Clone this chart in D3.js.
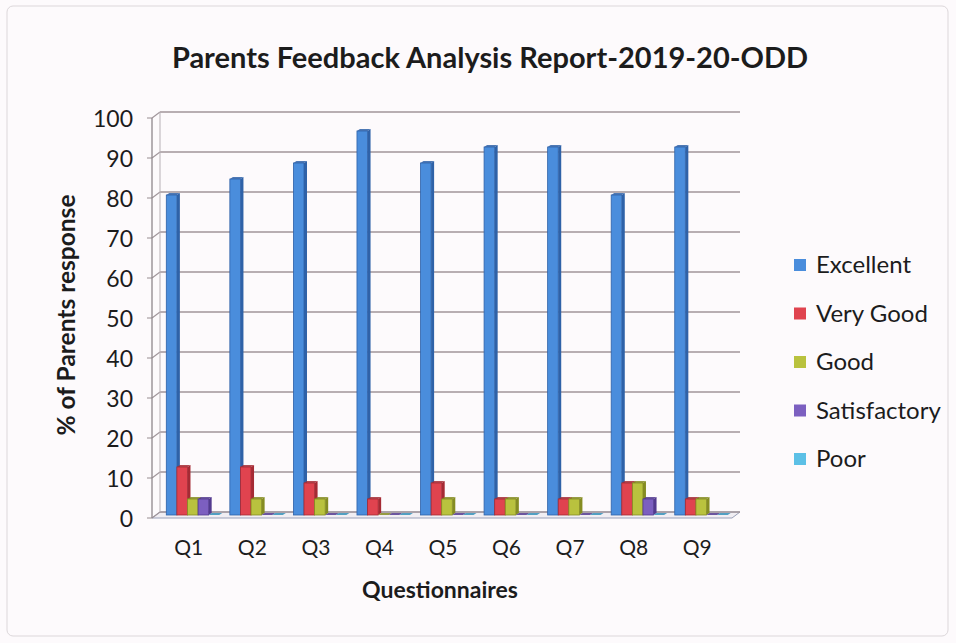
<!DOCTYPE html>
<html><head><meta charset="utf-8">
<script src="https://cdn.jsdelivr.net/npm/d3@7"></script>
<style>html,body{margin:0;padding:0;background:#fff;}svg{display:block;}</style>
</head><body>
<svg id="c" width="956" height="643"></svg>
<script>
const categories = ["Q1","Q2","Q3","Q4","Q5","Q6","Q7","Q8","Q9"];
const seriesNames = ["Excellent","Very Good","Good","Satisfactory","Poor"];
const excellent    = [80, 84, 88, 96, 88, 92, 92, 80, 92];
const veryGood     = [12, 12,  8,  4,  8,  4,  4,  8,  4];
const good         = [ 4,  4,  4,  0,  4,  4,  4,  8,  4];
const satisfactory = [ 4,  0,  0,  0,  0,  0,  0,  4,  0];
const poor         = [ 0,  0,  0,  0,  0,  0,  0,  0,  0];
const yTicks = [0,10,20,30,40,50,60,70,80,90,100];
const colors = ["#4a8ddc","#e0434f","#b9c23e","#7c5fc0","#5cc0e6"];
const sideColors = ["#2f62a8","#a52a34","#858c22","#533a8f","#3590b8"];

const seriesValues = [excellent, veryGood, good, satisfactory, poor];

const svg = d3.select("#c");
svg.append("rect").attr("x",0).attr("y",0).attr("width",956).attr("height",643).attr("fill","#fdfafc");
svg.append("rect").attr("x",7).attr("y",6).attr("width",941).attr("height",630).attr("rx",6)
  .attr("fill","none").attr("stroke","#dcd7da").attr("stroke-width",1);

const FONT = "Lato, 'Open Sans', sans-serif";
const axisX = 152, plotRight = 732, dx = 8, dy = -6;
const yFront = d3.scaleLinear().domain([0,100]).range([518,118]);
const yBar = d3.scaleLinear().domain([0,100]).range([515,115]);
const x0 = d3.scaleBand().domain(categories).range([161,733]).padding(0);
const x1 = d3.scaleBand().domain(seriesNames).range([0,x0.bandwidth()]).paddingInner(0).paddingOuter(0.5);

// title
svg.append("text").attr("x",490).attr("y",68).attr("text-anchor","middle")
  .attr("font-family",FONT).attr("font-weight","bold").attr("font-size",29).attr("fill","#1c1c1c")
  .text("Parents Feedback Analysis Report-2019-20-ODD");

const grid = svg.append("g");
const gridColor = "#a0959a";
grid.append("path").attr("d",`M${axisX},${yFront(0)}L${plotRight},${yFront(0)}L${plotRight+dx},${yFront(0)+dy}L${axisX+dx},${yFront(0)+dy}Z`)
  .attr("fill","#f1eef3").attr("stroke","#9aa0b8").attr("stroke-width",1);
yTicks.forEach(t=>{
  const yf = yFront(t);
  grid.append("line").attr("x1",axisX+dx).attr("x2",plotRight+dx).attr("y1",yf+dy).attr("y2",yf+dy)
    .attr("stroke",gridColor).attr("stroke-width",1.3);
  grid.append("line").attr("x1",axisX).attr("x2",axisX+dx).attr("y1",yf).attr("y2",yf+dy)
    .attr("stroke",gridColor).attr("stroke-width",1.1);
  grid.append("line").attr("x1",axisX-5).attr("x2",axisX).attr("y1",yf).attr("y2",yf)
    .attr("stroke",gridColor).attr("stroke-width",1.1);
});
grid.append("line").attr("x1",axisX+dx).attr("x2",axisX+dx).attr("y1",yFront(0)+dy).attr("y2",yFront(100)+dy)
  .attr("stroke","#b7b0b5").attr("stroke-width",1);
grid.append("line").attr("x1",axisX).attr("x2",axisX).attr("y1",yFront(0)).attr("y2",yFront(100))
  .attr("stroke","#8f878c").attr("stroke-width",1.3);

const yAxis = d3.axisLeft(yFront).tickValues(yTicks).tickSize(0).tickPadding(0);
const yg = svg.append("g").attr("transform",`translate(${axisX-19},0)`).call(yAxis);
yg.select(".domain").remove();
yg.selectAll("text").attr("font-family",FONT).attr("font-size",23).attr("fill","#1c1c1c").attr("dy","0.35em");

const bd = 3, bh = -2;
const barsG = svg.append("g");
categories.forEach((c,ci)=>{
  seriesNames.forEach((s,si)=>{
    const v = seriesValues[si][ci];
    const x = x0(c) + x1(s), w = x1.bandwidth();
    const yTop = yBar(v), yBase = yBar(0);
    const g = barsG.append("g");
    g.append("path").attr("d",`M${x+w},${yTop}L${x+w+bd},${yTop+bh}L${x+w+bd},${yBase+bh}L${x+w},${yBase}Z`)
      .attr("fill",sideColors[si]);
    g.append("path").attr("d",`M${x},${yTop}L${x+bd},${yTop+bh}L${x+w+bd},${yTop+bh}L${x+w},${yTop}Z`)
      .attr("fill",sideColors[si]).attr("opacity",0.85);
    if (v>0) g.append("rect").attr("x",x).attr("y",yTop).attr("width",w).attr("height",yBase-yTop)
      .attr("fill",colors[si]).attr("stroke",sideColors[si]).attr("stroke-width",0.8);
  });
});

const xAxis = d3.axisBottom(x0).tickSize(0).tickPadding(0);
const xg = svg.append("g").attr("transform",`translate(-4,540)`).call(xAxis);
xg.select(".domain").remove();
xg.selectAll("text").attr("font-family",FONT).attr("font-size",21).attr("fill","#1c1c1c").attr("dy","0.71em");

svg.append("text").attr("x",440).attr("y",598).attr("text-anchor","middle")
  .attr("font-family",FONT).attr("font-weight","bold").attr("font-size",23).attr("fill","#1c1c1c").text("Questionnaires");
svg.append("text").attr("transform","translate(75,315) rotate(-90)").attr("text-anchor","middle")
  .attr("font-family",FONT).attr("font-weight","bold").attr("font-size",24.5).attr("fill","#1c1c1c").text("% of Parents response");

const lg = svg.append("g").attr("transform","translate(794,265)");
seriesNames.forEach((s,i)=>{
  const g = lg.append("g").attr("transform",`translate(0,${i*48.5})`);
  g.append("rect").attr("x",0).attr("y",-6).attr("width",12).attr("height",12).attr("fill",colors[i]);
  g.append("text").attr("x",22).attr("y",0).attr("dy","0.35em").attr("font-family",FONT)
    .attr("font-size",24).attr("fill","#1c1c1c").text(s);
});
</script>
</body></html>
